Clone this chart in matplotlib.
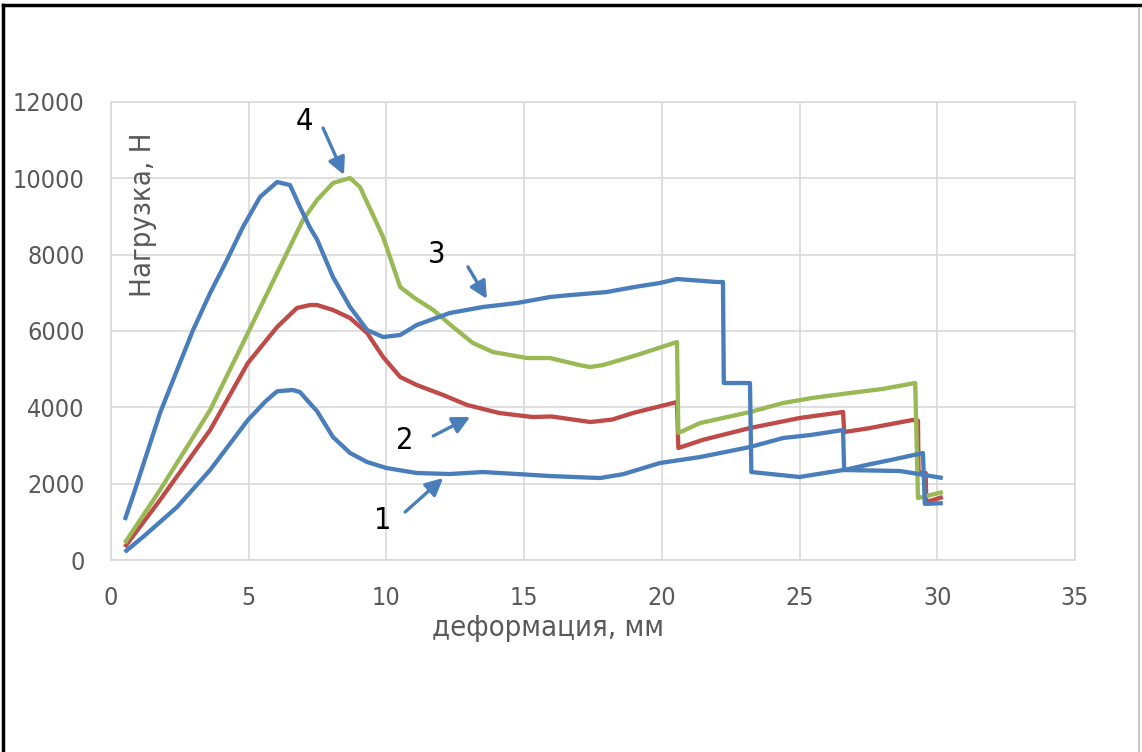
import matplotlib
matplotlib.use("Agg")
import matplotlib.pyplot as plt
from matplotlib.lines import Line2D

plt.rcParams['font.family'] = ['DejaVu Sans']
plt.rcParams['font.stretch'] = 'condensed'

# curve 1 (lower blue)
x1 = [0.5, 1.16, 2.4, 3.6, 4.97, 5.6, 6.03, 6.6, 6.86, 7.23, 7.48, 8.06, 8.68, 9.3, 10.0,
      11.1, 12.3, 13.5, 14.74, 15.94, 17.76, 18.6, 19.93, 21.39, 23.2, 24.4, 25.4, 26.58,
      26.62, 27.5, 28.5, 29.48, 29.55, 30.2]
y1 = [210, 603, 1389, 2358, 3668, 4150, 4420, 4454, 4400, 4100, 3900, 3222, 2803, 2567, 2410,
      2279, 2253, 2305, 2253, 2200, 2148, 2250, 2541, 2698, 2960, 3196, 3275, 3406,
      2358, 2500, 2650, 2803, 1470, 1490]

# curve 2 (red)
x2 = [0.5, 1.78, 3.6, 4.97, 6.03, 6.75, 7.23, 7.48, 8.06, 8.68, 9.3, 9.88, 10.5, 11.1, 12.06,
      12.93, 14.1, 15.3, 16.0, 17.4, 18.2, 18.95, 20.55, 20.6, 21.5, 23.2, 25.0, 26.58, 26.62,
      27.5, 29.1, 29.3, 29.32, 29.58, 29.6, 30.2]
y2 = [340, 1572, 3406, 5161, 6104, 6602, 6681, 6681, 6550, 6340, 5947, 5318, 4794, 4585, 4323,
      4061, 3851, 3746, 3760, 3615, 3680, 3851, 4139, 2934, 3150, 3458, 3720, 3877, 3353,
      3450, 3668, 3650, 2300, 2280, 1520, 1650]

# curve 3 (upper blue)
x3 = [0.5, 0.87, 1.78, 2.4, 2.98, 3.6, 4.21, 4.79, 5.41, 6.03, 6.5, 6.86, 7.23, 7.48, 8.06,
      8.68, 9.3, 9.88, 10.5, 11.1, 12.3, 13.5, 14.74, 15.94, 16.5, 18.0, 19.0, 19.93, 20.55,
      22.0, 22.22, 22.25, 23.2, 23.25, 25.0, 26.58, 28.65, 30.2]
y3 = [1048, 1834, 3851, 4978, 6026, 6995, 7860, 8724, 9510, 9903, 9824, 9250, 8700, 8400, 7414,
      6628, 6026, 5842, 5895, 6157, 6471, 6628, 6733, 6890, 6930, 7021, 7152, 7257, 7362,
      7283, 7283, 4637, 4637, 2305, 2175, 2358, 2332, 2148]

# curve 4 (green)
x4 = [0.5, 1.78, 3.6, 4.97, 6.03, 6.97, 7.48, 8.06, 8.68, 9.04, 9.88, 10.5, 10.97, 11.7,
      12.42, 13.14, 13.87, 15.1, 15.94, 17.0, 17.39, 17.87, 19.1, 20.55, 20.6,
      21.39, 23.2, 24.4, 25.5, 26.83, 28.0, 29.2, 29.3, 30.2]
y4 = [445, 1834, 3930, 5947, 7519, 8907, 9431, 9877, 10008, 9772, 8462, 7152, 6890, 6550,
      6104, 5685, 5449, 5292, 5292, 5109, 5056, 5109, 5371, 5711, 3327,
      3589, 3877, 4113, 4250, 4375, 4480, 4637, 1624, 1781]

# curve numbers: label position, arrow tail, arrow head
labels = ['1', '2', '3', '4']
label_xy = [(9.88, 1048), (10.67, 3144), (11.83, 8012), (7.04, 11488)]
arrow_from = [(10.68, 1258), (11.70, 3250), (12.96, 7680), (7.70, 11318)]
arrow_to = [(12.06, 2148), (13.04, 3750), (13.65, 6840), (8.46, 10086)]

blue = '#4A7EBB'
red = '#BE4B48'
green = '#98B954'
grey = '#595959'

fig = plt.figure(figsize=(11.42, 7.52), dpi=100)
ax = fig.add_axes([0.0972, 0.2553, 0.8441, 0.6091])

for xs, ys, c in [(x2, y2, red), (x4, y4, green), (x1, y1, blue), (x3, y3, blue)]:
    ax.plot(xs, ys, color=c, lw=3.1, solid_joinstyle='round', solid_capstyle='butt')

for lab, p, a, b in zip(labels, label_xy, arrow_from, arrow_to):
    ax.text(p[0], p[1], lab, fontsize=22, color='black', ha='center', va='center')
    ax.annotate('', xy=b, xytext=a,
                arrowprops=dict(arrowstyle='-|>', color=blue, lw=2.4, mutation_scale=26,
                                shrinkA=0, shrinkB=0))

ax.set_xlim(0, 35)
ax.set_ylim(0, 12000)
ax.set_xticks(range(0, 36, 5))
ax.set_yticks(range(0, 12001, 2000))
ax.grid(True, color='#D9D9D9', lw=1.2)
ax.set_axisbelow(True)
for s in ax.spines.values():
    s.set_color('#D9D9D9')
    s.set_linewidth(1.2)
ax.tick_params(length=0, labelsize=18, labelcolor=grey)
ax.tick_params(axis='y', pad=19)
ax.tick_params(axis='x', pad=19)

ax.text(0.033, 0.753, 'Нагрузка, Н', transform=ax.transAxes, rotation=90,
        fontsize=21, color=grey, ha='center', va='center')
ax.text(0.453, -0.148, 'деформация, мм', transform=ax.transAxes,
        fontsize=21, color=grey, ha='center', va='center')

# frame of the screenshot
fig.add_artist(Line2D([0.003, 0.003], [0.0, 0.993], color='black', lw=2.5))
fig.add_artist(Line2D([0.003, 1.0], [0.993, 0.993], color='black', lw=2.5))
fig.add_artist(Line2D([0.997, 0.997], [0.0, 0.99], color='#C8C8C8', lw=1.5))

fig.savefig('out.png', dpi=100)
